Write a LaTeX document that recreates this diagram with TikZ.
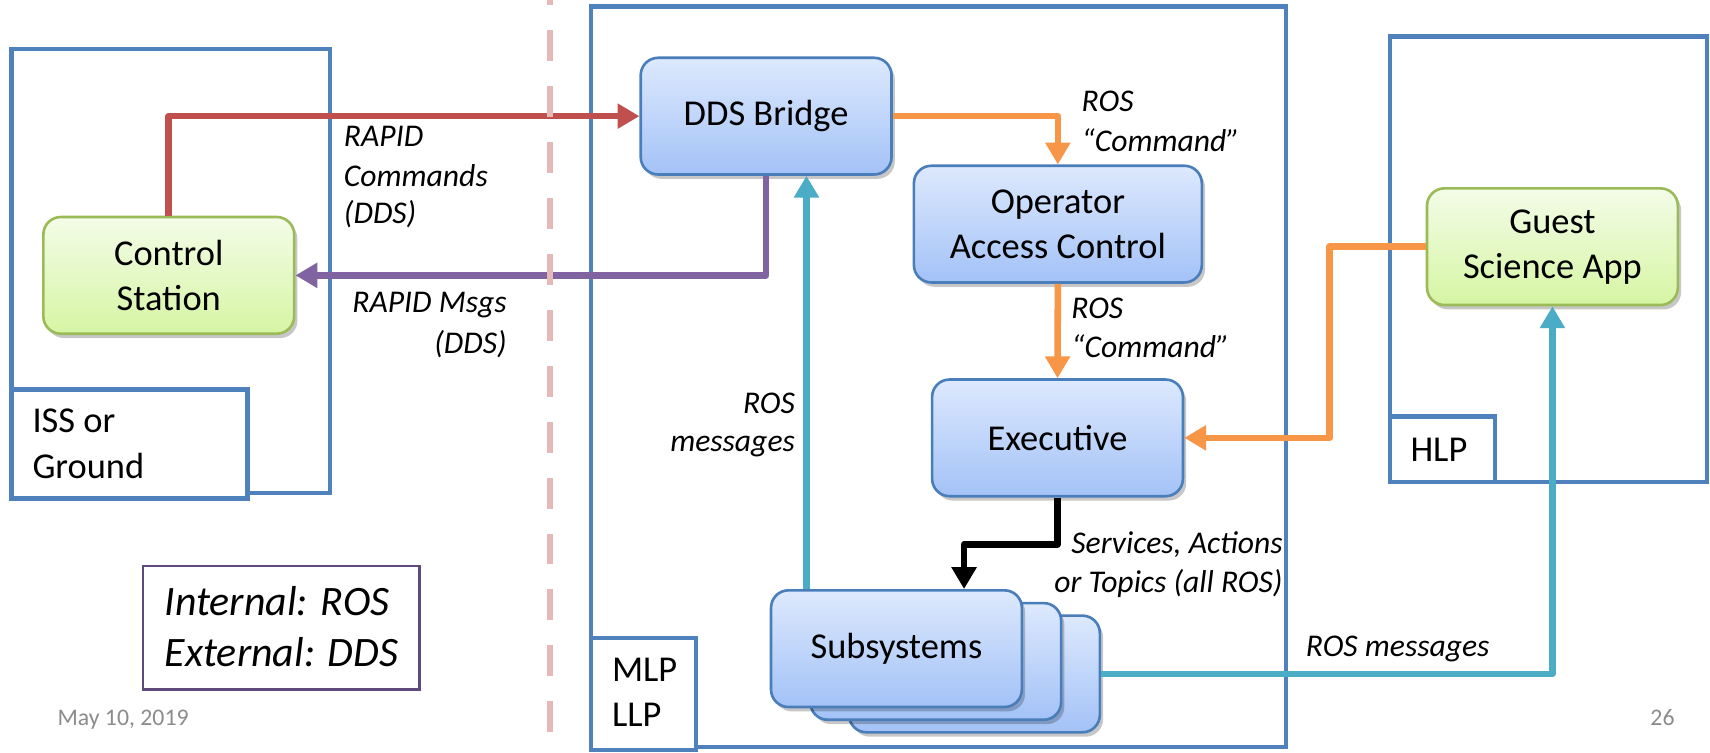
\documentclass[tikz,border=0pt]{standalone}
\usepackage{fontspec}
\setmainfont{Carlito}
\usetikzlibrary{arrows.meta,shadows}
\definecolor{frameblue}{HTML}{4F81BD}
\definecolor{nodeblue}{HTML}{4A7EBB}
\definecolor{bluetop}{HTML}{DDE9FD}
\definecolor{bluebot}{HTML}{A3C2F7}
\definecolor{nodegreen}{HTML}{9BBB59}
\definecolor{greentop}{HTML}{F3FCE8}
\definecolor{greenbot}{HTML}{D6F5A3}
\definecolor{cRed}{HTML}{C0504D}
\definecolor{cPurple}{HTML}{8064A2}
\definecolor{cOrange}{HTML}{F79646}
\definecolor{cTeal}{HTML}{4BACC6}
\definecolor{cPink}{HTML}{E6B9B8}
\definecolor{legendpurple}{HTML}{604A7B}
\definecolor{footgrey}{HTML}{8C8C8C}
\begin{document}
\begin{tikzpicture}[x=0.5pt,y=-0.5pt,
  frame/.style={draw=frameblue, line width=2pt},
  boxbase/.style={line width=1.2pt, rounded corners=8pt, minimum width=115pt, minimum height=53.5pt, inner sep=0pt, align=center, font=\fontsize{16.7}{20.6}\selectfont, drop shadow={shadow xshift=1.5pt, shadow yshift=-2pt, opacity=0.22, fill=black}},
  bluebox/.style={boxbase, draw=nodeblue, top color=bluetop, bottom color=bluebot},
  greenbox/.style={boxbase, draw=nodegreen, top color=greentop, bottom color=greenbot},
  conn/.style={line width=3pt, line join=round, -{Triangle[length=10pt,width=11pt]}},
  lbl/.style={font=\fontsize{14.5}{18}\selectfont\itshape, inner sep=0pt},
  plain/.style={font=\fontsize{16.7}{20.6}\selectfont, inner sep=0pt},
  legendtxt/.style={font=\fontsize{19.2}{23}\selectfont\itshape, inner sep=0pt},
  foot/.style={font=\fontsize{10.9}{13}\selectfont, text=footgrey, inner sep=0pt}]
\useasboundingbox (0,0) rectangle (1568,690);
\fill[white] (0,0) rectangle (1568,690);

% frames
\draw[frame] (10.5,45.2) rectangle (302.5,452);
\draw[frame, fill=white] (10.5,357) rectangle (227,457);
\node[plain, anchor=base west] (iss1) at (29.4,397) {ISS or};
\node[plain, anchor=base west] (iss2) at (29.4,438.6) {Ground};

\draw[frame] (542,6) rectangle (1179,685);
\draw[frame, fill=white] (542,585) rectangle (638,688);
\node[plain, anchor=base west] (mlp) at (560.8,625) {MLP};
\node[plain, anchor=base west] (llp) at (560.8,666) {LLP};

\draw[frame] (1274.5,33.6) rectangle (1565,441.7);
\draw[frame, fill=white] (1274.5,382) rectangle (1370.8,441.7);
\node[plain, anchor=base west] (hlp) at (1293,423) {HLP};

% legend
\draw[draw=legendpurple, line width=1.2pt] (131,519) rectangle (384.8,632);
\node[legendtxt, anchor=base west] (lg1) at (150.6,564) {Internal: ROS};
\node[legendtxt, anchor=base west] (lg2) at (150.6,610.7) {External: DDS};

% nodes
\node[greenbox] (cs) at (154.75,252.5) {Control\\Station};
\node[bluebox] (dds) at (702.5,106.5) {DDS Bridge};
\node[bluebox, minimum width=132pt] (oac) at (970,205.5) {Operator\\Access Control};
\node[bluebox] (exe) at (969.7,401.5) {Executive};
\node[greenbox] (gsa) at (1423.5,226.2) {Guest\\Science App};
\node[bluebox] (sub3) at (893.5,618) {};
\node[bluebox] (sub2) at (858,606.5) {};
\node[bluebox] (sub1) at (822,594.8) {Subsystems};

% connectors
\draw[conn, draw=cRed] (cs.north) |- (dds.west);
\draw[conn, draw=cPurple] (dds.south) |- (cs.east);
\coordinate (tA) at ([xshift=18.5pt]dds.south);
\draw[conn, draw=cTeal] (tA |- sub1.north) -- (tA);
\draw[conn, draw=cOrange] (dds.east) -| (oac.north);
\draw[conn, draw=cOrange] (oac.south) -- (exe.north);
\coordinate (oB) at ([xshift=-44pt]gsa.west);
\draw[conn, draw=cOrange] (gsa.west) -- (oB) |- (exe.east);
\coordinate (bk) at ([xshift=31pt]sub1.north);
\coordinate (bj) at ([yshift=-21.5pt]exe.south);
\draw[conn, draw=black] (exe.south) -- (bj) -| (bk);
\draw[conn, draw=cTeal] (sub3.east) -| (gsa.south);

% connector labels
\node[lbl, anchor=base west] (r1) at (315,134.5) {RAPID};
\node[lbl, anchor=base west] (r2) at (315,171) {Commands};
\node[lbl, anchor=base west] (r3) at (315,204.6) {(DDS)};
\node[lbl, anchor=base east] (m1) at (465,287) {RAPID Msgs};
\node[lbl, anchor=base east] (m2) at (465,324) {(DDS)};
\node[lbl, anchor=base west] (c1) at (991.5,102.4) {ROS};
\node[lbl, anchor=base west] (c2) at (991.5,139) {“Command”};
\node[lbl, anchor=base west] (c3) at (982,292) {ROS};
\node[lbl, anchor=base west] (c4) at (982,327.6) {“Command”};
\node[lbl, anchor=base east] (rm1) at (729.3,379) {ROS};
\node[lbl, anchor=base east] (rm2) at (729.3,414) {messages};
\node[lbl, anchor=base east] (s1) at (1176.5,507.4) {Services, Actions};
\node[lbl, anchor=base east] (s2) at (1176.5,543.4) {or Topics (all ROS)};
\node[lbl, anchor=base west] (rm3) at (1197,602) {ROS messages};

% footer
\node[foot, anchor=base west] (date) at (52.4,665) {May 10, 2019};
\node[foot, anchor=base west] (page) at (1513,665) {26};

% dashed divider
\draw[draw=cPink, line width=2.8pt, dash pattern=on 14.2pt off 11.45pt, dash phase=11.9pt] (504,0) -- (504,690);
\end{tikzpicture}
\end{document}
